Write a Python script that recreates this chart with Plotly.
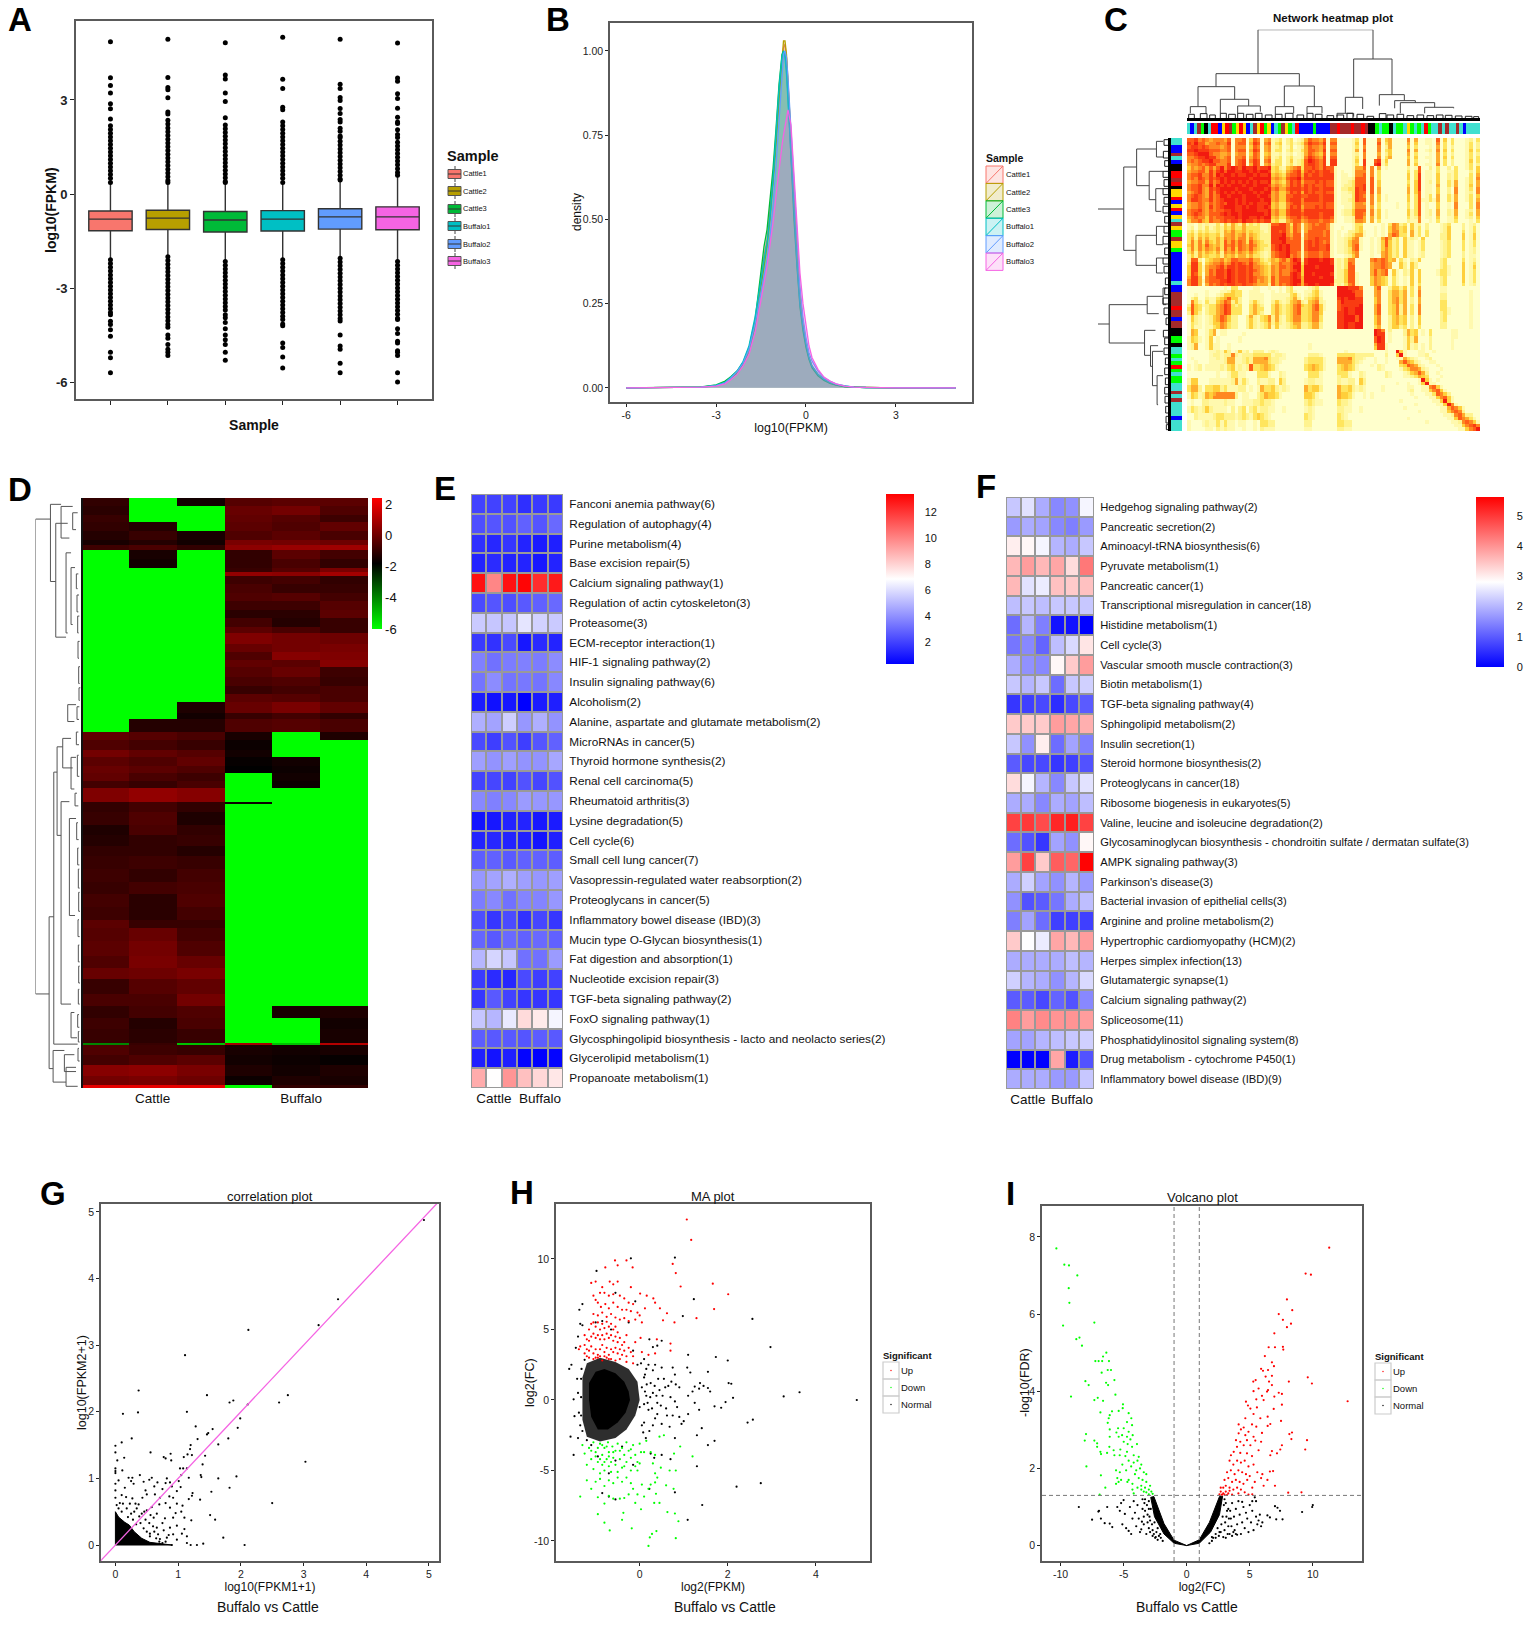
# Figura multipanel: expresion Buffalo vs Cattle (paneles A-I)
import plotly.graph_objects as go

W, H = 1535, 1627
SANS = "Liberation Sans"

# ---------- A: boxplot ----------
samples = ["Cattle1", "Cattle2", "Cattle3", "Buffalo1", "Buffalo2", "Buffalo3"]
sample_colors = ["#F8766D", "#B79F00", "#00BA38", "#00BFC4", "#619CFF", "#F564E3"]
box_q1 = [-1.17, -1.13, -1.21, -1.18, -1.12, -1.14]
box_med = [-0.80, -0.77, -0.83, -0.80, -0.73, -0.73]
box_q3 = [-0.54, -0.52, -0.56, -0.53, -0.47, -0.41]
box_low = [-2.1, -2.0, -2.15, -2.1, -2.05, -2.15]
box_up = [0.37, 0.37, 0.37, 0.37, 0.45, 0.6]
out_cattle1 = [4.86, 3.71, 3.46, 3.22, 2.88, 2.72, 2.39, 2.18, 2.06, 1.94, 1.82, 1.7, 1.58, 1.46, 1.34, 1.22, 1.1, .98, .86, .74, .62, .5, .37,
               -2.1, -2.22, -2.34, -2.46, -2.58, -2.7, -2.82, -2.94, -3.06, -3.18, -3.3, -3.42, -3.54, -3.66, -3.78, -3.85, -4.06, -4.16, -4.33, -4.54, -5.05, -5.22, -5.7]
out_cattle2 = [4.94, 3.72, 3.4, 3.33, 3.07, 2.62, 2.55, 2.35, 2.23, 2.11, 1.99, 1.87, 1.75, 1.63, 1.51, 1.39, 1.27, 1.15, 1.03, .91, .79, .67, .55, .43, .37,
               -2.0, -2.12, -2.24, -2.36, -2.48, -2.6, -2.72, -2.84, -2.96, -3.08, -3.2, -3.32, -3.44, -3.56, -3.68, -3.8, -3.92, -4.04, -4.16, -4.25, -4.5, -4.6, -4.8, -4.95, -5.05, -5.15]
out_cattle3 = [4.83, 3.8, 3.67, 3.22, 2.95, 2.43, 2.2, 2.08, 1.96, 1.84, 1.72, 1.6, 1.48, 1.36, 1.24, 1.12, 1.0, .88, .76, .64, .52, .4, .37,
               -2.15, -2.27, -2.39, -2.51, -2.63, -2.75, -2.87, -2.99, -3.11, -3.23, -3.35, -3.47, -3.59, -3.7, -3.85, -3.95, -4.1, -4.3, -4.5, -4.65, -4.8, -5.05, -5.3]
out_buffalo1 = [5.0, 3.66, 3.37, 2.77, 2.69, 2.3, 2.18, 2.06, 1.94, 1.82, 1.7, 1.58, 1.46, 1.34, 1.22, 1.1, .98, .86, .74, .62, .5, .37,
                -2.1, -2.22, -2.34, -2.46, -2.58, -2.7, -2.82, -2.94, -3.06, -3.18, -3.3, -3.42, -3.54, -3.66, -3.78, -3.9, -4.0, -4.15, -4.2, -4.75, -4.9, -5.2, -5.55]
out_buffalo2 = [4.94, 3.5, 3.37, 3.08, 2.98, 2.73, 2.57, 2.38, 2.3, 2.1, 2.0, 1.85, 1.8, 1.68, 1.56, 1.44, 1.32, 1.2, 1.08, .96, .84, .72, .6, .48, .45,
                -2.05, -2.17, -2.29, -2.41, -2.53, -2.65, -2.77, -2.89, -3.01, -3.13, -3.25, -3.37, -3.49, -3.61, -3.73, -3.85, -3.97, -4.05, -4.5, -4.85, -4.95, -5.4, -5.7]
out_buffalo3 = [4.82, 3.7, 3.6, 3.2, 3.05, 2.74, 2.45, 2.3, 2.25, 2.05, 1.9, 1.8, 1.65, 1.53, 1.41, 1.29, 1.17, 1.05, .93, .81, .69, .6,
                -2.15, -2.27, -2.39, -2.51, -2.63, -2.75, -2.87, -3.0, -3.12, -3.24, -3.36, -3.48, -3.6, -3.72, -3.84, -3.96, -4.0, -4.3, -4.45, -4.7, -4.75, -5.0, -5.05, -5.15, -5.7, -6.0]
outliers = [out_cattle1, out_cattle2, out_cattle3, out_buffalo1, out_buffalo2, out_buffalo3]

# ---------- B: densidad ----------
dens_x = [-6, -4, -3.5, -3, -2.7, -2.5, -2.3, -2.1, -1.9, -1.7, -1.5, -1.4, -1.3, -1.2, -1.1, -1, -.9, -.8, -.75, -.7, -.65, -.6, -.5, -.4, -.3, -.2, -.1, 0, .1, .2, .4, .6, .8, 1, 1.3, 1.6, 2, 3, 5]
dens_c1 = [0, .001, .002, .007, .015, .03, .045, .07, .11, .19, .33, .39, .44, .52, .62, .74, .87, .98, 1.01, 1.02, .98, .9, .72, .55, .4, .27, .19, .13, .09, .065, .04, .025, .015, .009, .004, .002, .001, 0, 0]
dens_c2 = [0, .001, .002, .006, .014, .028, .043, .068, .105, .18, .3, .36, .42, .5, .6, .72, .86, .99, 1.03, 1.03, .99, .91, .73, .56, .41, .28, .19, .13, .09, .065, .04, .026, .016, .009, .004, .002, .001, 0, 0]
dens_c3 = [0, .002, .003, .009, .02, .034, .05, .075, .12, .2, .36, .42, .47, .55, .65, .77, .9, .99, 1.0, .99, .95, .87, .68, .5, .36, .24, .17, .12, .085, .06, .036, .022, .013, .008, .003, .002, .001, 0, 0]
dens_b1 = [0, .001, .002, .008, .016, .032, .05, .078, .125, .21, .33, .38, .43, .51, .62, .76, .89, .985, 1.0, .98, .93, .85, .68, .52, .37, .25, .18, .13, .09, .065, .04, .026, .016, .01, .005, .002, .001, 0, 0]
dens_b2 = [0, .001, .002, .006, .015, .03, .048, .073, .115, .19, .29, .33, .38, .45, .54, .66, .8, .95, .99, 1.0, .98, .92, .76, .6, .44, .3, .21, .15, .105, .08, .05, .03, .02, .012, .005, .002, .001, 0, 0]
dens_b3 = [0, .001, .002, .005, .012, .025, .04, .065, .1, .165, .27, .31, .36, .42, .49, .57, .65, .72, .75, .78, .81, .825, .78, .63, .47, .34, .25, .18, .125, .09, .055, .032, .02, .012, .005, .002, .001, 0, 0]
densities = [dens_c1, dens_c2, dens_c3, dens_b1, dens_b2, dens_b3]

# ---------- C: network heatmap (niveles 0-9, grupos separados por espacios) ----------
net_rows = [
    "77867656 665706670476056 123023012 576657066 0000130700 060450 00060500110704030001203",
    "87977566 766806770587067 134023123 687768077 0000140700 070350 00050400110603030001302",
    "78878766 656706660476056 123013012 576657066 0000130600 060250 00040300010503020001302",
    "88988877 766706770587056 133023113 577658077 0000150700 060340 00060500120604030001403",
    "77899976 655605660476045 112012012 576547066 0000120600 050240 00050300010503020001302",
    "66788988 656706670576056 123023112 687658077 0000130600 060350 00040400110504030001303",
    "67678897 766706780687067 133024123 798768088 0000140800 781400 00050300010503020001403",
    "56676788 666806780587056 233023123 788768088 0000130800 891300 00050400110603020001302",
    "46567575 796898798897889 342145673 778768771 0000155706 050100 00020170020300203001304",
    "56677586 897998899898998 343256784 787878871 0100166606 030000 00030370110300113000204",
    "67786686 989989889989889 454367785 878878881 0110166706 030000 00040380110400213000305",
    "67687687 898999999899999 565478896 888888881 0111277707 030000 00040380110400213001306",
    "56677586 798989898989889 454368785 777878771 0112377707 040000 00030480120400315001305",
    "67786696 989899989989998 565468786 878778771 0122377807 040000 00040480110500315001405",
    "67786587 899998999899989 675578887 878878881 0223387807 050000 00050480110400206001306",
    "56786586 898989899989899 564468785 878778771 0112387707 050000 00050470110400206001206",
    "67876586 799899989998998 564477887 788878881 0111387606 040100 00040370130500315001304",
    "68876686 789998989999899 564478886 888878881 0112387706 040100 00040371131500315001305",
    "56676576 787998989898889 453367886 777778771 0111366506 030000 10030370100400106000306",
    "56676586 789998898998898 453368785 777878771 0011366605 030000 10030370100400106000306",
    "67786576 778898899998889 564478886 888888881 0122477706 140100 00041370120500215001205",
    "67876577 789899899999989 564478887 888878881 0122477606 140100 00041370120500215001305",
    "56766476 778889899889899 453367786 788878871 0011277505 140100 00031260110400114001204",
    "46675476 678788798878788 342256775 677767761 0011266505 030000 00021160010300113000103",
    "11021211 314253252323112 778863761 567677610 0000133000 001036 52304120200012300020120",
    "12021312 324353353333112 888864761 567777610 0100134000 101046 53404130200012400020130",
    "23132322 325464453433212 887864760 577776710 1002234100 101046 63405130300012400030130",
    "34243433 425564563543222 888965770 677776710 1012355100 101057 63305130300022400040140",
    "35253533 536564663643222 889976771 677877710 1123561001 015752 30412104000022400040140",
    "36363643 537575763754322 888977771 787876710 1124661001 014742 30411013000012300030130",
    "46364754 537675765764332 789897771 787877810 1124671001 014742 30411013000012300030130",
    "36364654 637574765754322 789897771 788877810 1123671001 014642 30411013000012300030120",
    "35253543 526564654643212 678897761 677767710 1123560001 015642 30411012000012300020120",
    "24253433 425453553533212 678896761 677767710 0012460001 005642 30411012000012300020110",
    "27720345 564577666755323 546757982 899989981 2136600006 767645 03102140000023000030120",
    "38840456 675687876865432 557667893 899999981 2137600005 667650 04204200000023000040130",
    "48841566 786887887866543 657767994 999899991 2137700005 667650 04204200000023100040140",
    "48841576 887987887876543 657667894 999999991 2247700005 756704 10214040000133100040130",
    "48740576 887987887866543 657668984 998999981 2247710005 756704 10214040000133100040130",
    "58850677 887987887876653 757778985 999989991 2247710004 654303 10104040000023000040130",
    "68851677 788987887875653 757778995 999999992 2247710004 654303 10104040000023000040130",
    "68850576 787887787765552 757678985 899899981 2136710004 654303 10104030000023000030120",
    "00000000 001033000011001 001023000 012300000 9998886000 570024 42403050000011000000000",
    "00000100 011243300111000 101023100 113410000 9999877000 560035 53503060000011000000100",
    "00100100 124443300111100 111113410 123410000 9999977000 560035 53503060000022000000100",
    "02300211 345744200111100 111123520 234520000 8989988000 460035 63502050000022000000100",
    "06310311 457624200242100 242124562 145621000 7988888000 460035 63502050000033000000100",
    "27431233 568732300353200 353234674 346741000 7888889000 570034 62503060000033000000100",
    "37430233 568733300353300 353234673 346741000 7898899000 570034 62503060000033100000100",
    "27420233 568733300353200 353234673 346640000 8898899000 570034 62503060000023100000100",
    "04210124 576422002521346 252134663 346630000 8899979000 460024 53402040000023000000100",
    "04210124 576422002421346 252134663 346630000 8899979000 460024 53402040000023000000100",
    "03210124 465322002421235 242123552 235520000 8898899000 460024 53402040000022000000100",
    "03110113 465322002421235 141123452 235520000 8898899000 350024 42302030000022000000100",
    "05400135 011000000000000 000000000 000000000 0000000000 986020 00253401030000011000000",
    "05400135 011000010000000 000000000 000000000 0000000000 988010 00253401030000011000000",
    "14310140 100000100000000 000000000 000000000 0000000000 798010 00142500020000011000000",
    "14310140 100000100000000 000000000 000000000 0000000000 798010 00142500020000010000000",
    "12500141 100100000000000 000000000 010000000 0000000000 588100 00141201020000010000000",
    "12500141 100100000000000 000000000 010000000 0000000000 488100 00141201020000010000000",
    "00000011 214201412022201 210000000 000000000 0010000000 000100 94100011001000000000000",
    "00000012 212262122233333 122100000 022210000 3333322222 000200 49100011200000000000000",
    "01000011 212551123255563 221100000 233331000 5556322100 100100 11532100120000000000000",
    "00100011 112551123255553 221000000 233331000 5555321000 100100 05754210011000000000000",
    "10120111 121341212733454 310000000 345431000 3454310001 021000 03476521000100000000000",
    "10120111 121341212733454 310000000 345431000 3454310000 021000 01346652100010000000000",
    "00000000 100133110003331 002100000 033310000 3331002100 000210 00124575200100000000000",
    "00000000 100133110003331 002100000 033310000 2331002100 000210 00112354300010000000000",
    "14400011 111125131002112 204200000 122110000 2112204200 000000 00000019410100000000000",
    "14400011 111125131002112 204200000 122110000 2112204200 000000 10010014911000000000000",
    "35520334 423111220101533 421210000 534420000 5334212100 001000 00011001167410000000000",
    "35520334 423111220101533 421210000 534420000 5334212100 001000 00012001146741000000000",
    "14312545 666662011002354 431000000 443100000 5443100101 000000 00001000113764200000000",
    "14312546 666662011002354 431000000 443100000 5443100101 000000 00000100011467410000000",
    "01002211 112110011122322 100000000 232110000 3221000000 000000 01000000001149410000000",
    "01002211 112110011122322 100000000 232110000 3221000000 000000 00000100000114961000000",
    "13212421 111020230231221 100100000 121000000 2211001000 000000 00100000000011576410000",
    "13212421 111020230231221 100100000 121000000 2211001000 000000 00000010000011467620000",
    "00211112 332221232134321 000000000 321000000 3210000000 000000 00000000000001126752200",
    "00211112 332221232134321 000000000 321000000 3210000000 000000 00010000000000114765310",
    "10001211 313110110010332 200000000 220000000 3322000000 000000 00000000100000011267641",
    "10001211 313110110010332 200000000 220000000 3322000000 000000 00000000000000001146786",
    "10000110 212110010010211 100000000 110000000 2211000000 000000 00000000000000000114679",
]
net_z = [[int(c) for c in row if c != " "] for row in net_rows]
module_top = "TBTNGKTRRBYRNGYRYBTNYRGYBTGNYGTRBBBBGBBBBNNRNNNRNNRNKKGTGGKTGGTYGTGTRGTTNTNTTNTBTTTT"
module_left = "TTBBNTBKKRRNRKYYRBYRBYTNYGGNYYGBBBBBBBBTBBNNNNRNNBNNKKGGKTTGTGRGTGGTTNTNTTTTBTTT"
module_ids = {"T": 0, "B": 1, "N": 2, "Y": 3, "G": 4, "R": 5, "K": 6}
module_colors = ["#40E0D0", "#0000FF", "#A52A2A", "#FFD700", "#00FF00", "#FF0000", "#000000"]

# enlaces del dendrograma (hoja a, hoja b, altura a, altura b, altura union)
net_links = [
    (213, 558, 134, 178, 266), (87, 337, 95, 97, 134), (33, 143, 35, 57, 95), (100, 185, 15, 37, 57),
    (152, 220, 15, 20, 37), (292, 382, 35, 35, 97), (500, 615, 63, 71, 178), (475, 527, 15, 28, 63),
    (577, 652, 38, 53, 71), (623, 685, 30, 47, 53), (640, 743, 15, 33, 47), (713, 800, 15, 30, 33),
    (10, 57, 15, 15, 35), (265, 320, 12, 15, 35), (360, 405, 15, 15, 35), (450, 500, 5, 5, 15),
]
net_small = [
    (5, 22, 12), (40, 60, 14), (68, 85, 10), (100, 118, 15), (125, 145, 12), (152, 170, 15), (178, 198, 12),
    (205, 225, 15), (235, 255, 10), (265, 285, 12), (295, 318, 15), (330, 350, 10), (360, 378, 15), (385, 405, 12),
    (420, 440, 8), (450, 470, 10), (480, 498, 15), (510, 530, 12), (540, 560, 6), (577, 597, 14), (600, 620, 10),
    (630, 650, 12), (660, 680, 8), (690, 710, 10), (720, 740, 8), (748, 768, 10), (775, 795, 9), (805, 825, 7),
    (835, 855, 6), (860, 875, 5),
]

# ---------- D: heatmap de genes ----------
d_edges = [0, 20, 40, 58, 79, 100, 112, 123, 145, 166, 175, 185, 205, 225, 245, 265, 285, 305, 320, 345, 365, 385, 400, 425, 445, 465, 483, 510, 523, 555,
           575, 597, 613, 635, 653, 672, 688, 722, 726, 745, 775, 800, 825, 850, 880, 910, 940, 970, 1000, 1020, 1050, 1085, 1115, 1140, 1175, 1205, 1233, 1260, 1293, 1297, 1320, 1345, 1370, 1393, 1399]
d_rows = [
    [-1, -6, -1.5, -.4, -.3, -.3], [-1.1, -6, -6, -.1, .1, -.5], [-.9, -6, -6, -.2, -.4, -.8], [-1, -1.2, -6, -.3, -.5, -.2],
    [-1.2, -.9, -1.4, -.5, -.3, -.6], [-1.4, -1.2, -1.5, .2, .1, 0], [-.8, -.6, -1, .5, .7, .8], [-6, -1.4, -6, -1, -.3, -.7],
    [-6, -1.5, -6, -1, -.6, -1], [-6, -6, -6, -.9, -.4, .2], [-6, -6, -6, .6, .5, .9], [-6, -6, -6, -.8, -.7, -1],
    [-6, -6, -6, -.6, -.9, -.9], [-6, -6, -6, -.5, -.4, -.7], [-6, -6, -6, -.8, -.8, -.4], [-6, -6, -6, -1.1, -1.1, -.3],
    [-6, -6, -6, -.7, -1.2, -.9], [-6, -6, -6, -.3, -.6, -.9], [-6, -6, -6, .3, .1, 0], [-6, -6, -6, -.1, .1, .2],
    [-6, -6, -6, -.5, .4, .3], [-6, -6, -6, -.2, -.3, .4], [-6, -6, -6, -.4, -.1, -.8], [-6, -6, -6, -.6, -.5, -.9],
    [-6, -6, -6, -.9, -.7, -.6], [-6, -6, -6, -.3, -.4, -.6], [-6, -6, -1.3, -.1, .2, -.2], [-6, -6, -1.5, -.9, -.7, -1],
    [-6, -1.2, -1.2, -.5, -.4, -.6], [-.2, -.4, -.6, -1.4, -6, -1.3], [-.5, -.7, -.9, -1.6, -6, -6], [.1, -.2, -.4, -1.5, -6, -6],
    [-.3, -.5, -.2, -1.7, -1.5, -6], [-.1, -.3, -.5, -1.8, -1.6, -6], [-.2, -.6, -.8, -6, -1.5, -6], [-.7, -.9, -.6, -6, -1.6, -6],
    [.3, .6, .4, -6, -6, -6], [-1, -.7, -1, -1.6, -6, -6], [-1, -.7, -1, -6, -6, -6], [-.9, -.5, -1.3, -6, -6, -6],
    [-1.3, -.6, -1, -6, -6, -6], [-1.2, -1, -.9, -6, -6, -6], [-1, -1, -1.2, -6, -6, -6], [-.9, -.8, -.9, -6, -6, -6],
    [-.8, -1, -.7, -6, -6, -6], [-.9, -.7, -.6, -6, -6, -6], [-.7, -1.1, -.5, -6, -6, -6], [-.8, -1.1, -.7, -6, -6, -6],
    [-.3, -.9, -.9, -6, -6, -6], [-.4, -.1, -.7, -6, -6, -6], [-.3, .1, -.5, -6, -6, -6], [-.5, .2, -.1, -6, -6, -6],
    [-.1, 0, .2, -6, -6, -6], [-.9, -.4, -.2, -6, -6, -6], [-.6, -.6, .1, -6, -6, -6], [-1, -.7, -.5, -6, -1.4, -1.3],
    [-.8, -1.2, -.6, -6, -6, -1.5], [-.9, -1.1, -.9, -6, -6, -1.4], [-4, -.9, -5, .9, -5, 1.2], [-.5, -.8, -.9, -1.4, -1.5, -1.4],
    [-.7, -.5, -.3, -1.5, -1.6, -1.7], [.4, .5, .2, -1.3, -1.5, -1.3], [.1, .2, 0, -1.6, -1.3, -1.4], [2, 2, 2, -6, -1, -1],
]
d_columns = [0, 1, 2, 3, 4, 5]
d_links = [
    (50, 1176, 92, 96, 137), (15, 198, 60, 76, 92), (60, 330, 40, 45, 76), (20, 95, 25, 35, 60), (35, 75, 10, 15, 25),
    (130, 320, 30, 40, 45), (165, 300, 18, 25, 30), (490, 530, 15, 20, 40), (993, 1353, 82, 84, 96), (650, 1295, 72, 10, 82),
    (590, 800, 55, 60, 72), (570, 640, 30, 25, 55), (615, 690, 15, 20, 30), (720, 1200, 35, 30, 60), (760, 990, 15, 18, 35),
    (1220, 1280, 20, 12, 30), (1310, 1385, 50, 45, 84), (1320, 1360, 20, 15, 50), (1350, 1395, 15, 10, 45),
    (180, 215, 8, 10, 14), (230, 270, 6, 8, 12), (280, 320, 5, 7, 10), (340, 380, 4, 6, 9), (400, 440, 3, 4, 7), (450, 480, 2, 4, 6),
    (495, 525, 5, 6, 12), (555, 585, 8, 6, 14), (610, 660, 7, 5, 11), (700, 730, 12, 8, 18), (770, 810, 9, 7, 13), (830, 870, 7, 5, 10),
    (880, 925, 5, 4, 8), (935, 980, 4, 3, 7), (1000, 1040, 6, 4, 9), (1060, 1100, 5, 4, 8), (1110, 1150, 4, 3, 7), (1165, 1200, 5, 4, 8),
    (1225, 1255, 6, 5, 10), (1265, 1290, 5, 4, 8), (1305, 1335, 6, 4, 9),
]

# ---------- E y F: rutas KEGG ----------
e_terms = ["Fanconi anemia pathway(6)", "Regulation of autophagy(4)", "Purine metabolism(4)", "Base excision repair(5)", "Calcium signaling pathway(1)",
           "Regulation of actin cytoskeleton(3)", "Proteasome(3)", "ECM-receptor interaction(1)", "HIF-1 signaling pathway(2)", "Insulin signaling pathway(6)",
           "Alcoholism(2)", "Alanine, aspartate and glutamate metabolism(2)", "MicroRNAs in cancer(5)", "Thyroid hormone synthesis(2)", "Renal cell carcinoma(5)",
           "Rheumatoid arthritis(3)", "Lysine degradation(5)", "Cell cycle(6)", "Small cell lung cancer(7)", "Vasopressin-regulated water reabsorption(2)",
           "Proteoglycans in cancer(5)", "Inflammatory bowel disease (IBD)(3)", "Mucin type O-Glycan biosynthesis(1)", "Fat digestion and absorption(1)", "Nucleotide excision repair(3)",
           "TGF-beta signaling pathway(2)", "FoxO signaling pathway(1)", "Glycosphingolipid biosynthesis - lacto and neolacto series(2)", "Glycerolipid metabolism(1)", "Propanoate metabolism(1)"]
e_values = [
    [2, 2, 2, 1.5, 1.8, 1.8], [2.3, 2.5, 2.4, 2.8, 2.5, 3], [1.5, 1.3, 1.7, 1.2, 1, 1.1], [1.2, 1.4, 1.2, 1.2, .9, 1.2], [13, 10, 13, 13.3, 12.3, 12.8],
    [2.2, 2.5, 2.3, 2.6, 2.8, 3], [5.5, 5.4, 5.4, 6.2, 5.7, 5.5], [1.8, 1.6, 2.2, .9, 1.4, 1.2], [3.6, 3.2, 3.5, 3.6, 3.5, 3.9], [3.3, 3.9, 3.3, 3.4, 3.3, 3.8],
    [1, .7, .9, .3, 1, 1.1], [4.8, 4.5, 5.6, 4.2, 4.8, 4.1], [2.2, 1.9, 2.4, 1.9, 2.5, 2.8], [4.4, 4.1, 4.4, 4.1, 4.1, 4.6], [2, 2.1, 2, 2.4, 2.1, 2.4],
    [3.8, 3.6, 3.8, 4.3, 4.2, 4.2], [.8, .9, 1.2, 1.2, .9, 1], [1.2, 1.3, 1.2, 1.1, .8, 1.1], [2.7, 2.8, 2.6, 2.8, 2.8, 2.7], [4.2, 4.5, 4.8, 4.4, 4.2, 4.4],
    [3.5, 3.8, 3.2, 3.7, 3.7, 4.2], [2.3, 1.7, 2.2, 1.6, 2.1, 1.7], [2.9, 2.6, 3, 2.8, 3, 2.8], [5, 5.8, 5.4, 3.2, 3.2, 4.3], [1.8, 1.4, 1.3, 2.2, 1.9, 2],
    [1.7, 2.6, 2, 1.7, 1.7, 1.7], [5.4, 5, 6.3, 7.8, 7.4, 6.6], [2.7, 2.6, 2.6, 2.5, 2.7, 2.6], [1.1, .8, 1.1, .4, .3, .4], [9, 6.9, 9.6, 8.5, 7.9, 7.5],
]
f_terms = ["Hedgehog signaling pathway(2)", "Pancreatic secretion(2)", "Aminoacyl-tRNA biosynthesis(6)", "Pyruvate metabolism(1)", "Pancreatic cancer(1)",
           "Transcriptional misregulation in cancer(18)", "Histidine metabolism(1)", "Cell cycle(3)", "Vascular smooth muscle contraction(3)", "Biotin metabolism(1)",
           "TGF-beta signaling pathway(4)", "Sphingolipid metabolism(2)", "Insulin secretion(1)", "Steroid hormone biosynthesis(2)", "Proteoglycans in cancer(18)",
           "Ribosome biogenesis in eukaryotes(5)", "Valine, leucine and isoleucine degradation(2)", "Glycosaminoglycan biosynthesis - chondroitin sulfate / dermatan sulfate(3)", "AMPK signaling pathway(3)", "Parkinson's disease(3)",
           "Bacterial invasion of epithelial cells(3)", "Arginine and proline metabolism(2)", "Hypertrophic cardiomyopathy (HCM)(2)", "Herpes simplex infection(13)", "Glutamatergic synapse(1)",
           "Calcium signaling pathway(2)", "Spliceosome(11)", "Phosphatidylinositol signaling system(8)", "Drug metabolism - cytochrome P450(1)", "Inflammatory bowel disease (IBD)(9)"]
f_values = [
    [2.2, 2.5, 1.9, 1.5, 1.6, 2.7], [1.7, 1.9, 1.8, 1.5, 1.4, 1.7], [3, 2.9, 2.7, 2, 1.9, 2.2], [3.6, 3.9, 3.6, 3.8, 3.2, 4.3], [3.6, 2.5, 2.6, 3.5, 3.4, 3.5],
    [2.1, 2.2, 2.1, 2.2, 2.2, 2.2], [1.2, 2, 1.4, .2, .2, 0], [1.3, 1.5, 1.1, 2.1, 2.4, 3.1], [1.9, 1.6, 1.5, 2.9, 3.4, 3.9], [2.2, 2, 2.2, 1.2, 2.2, 2.3],
    [.6, .7, .8, .5, .8, 1], [3.4, 3.4, 3.4, 3.9, 3.8, 3.7], [2.2, 1.6, 3, 1.2, 1.8, 1.4], [1, .8, .8, .6, .7, .9], [3.2, 2.7, 2, 1.5, 2.2, 2.5],
    [1.9, 1.9, 1.5, 1.9, 1.8, 2.1], [4.9, 5, 4.8, 5.2, 5.3, 4.9], [1.2, .9, .6, 1.8, 1.6, 2.9], [3.9, 4.9, 3.4, 4.6, 4.5, 5.6], [1.9, 2.3, 1.8, 1.6, 2, 1.7],
    [1.6, .9, 1, 1.3, 1.9, 2.1], [1.4, 1.8, 1.2, .7, .7, .7], [3.4, 2.8, 2.6, 3.8, 3.6, 3.9], [1.9, 1.9, 1.9, 1.9, 2.1, 2], [2.3, 2, 1.9, 1.6, 2, 2.4],
    [1, 1, .8, 1.1, .9, 1.5], [4.2, 3.9, 4.1, 4, 4, 3.9], [1.8, 1.8, 2, 2.1, 2.2, 2.3], [0, 0, 0, 3.8, .3, .9], [1.9, 1.9, 1.9, 1.7, 1.7, 2.2],
]

# ---------- G: correlacion ----------
g_points = [
    (4.92, 4.88), (3.55, 3.69), (3.24, 3.30), (2.12, 3.23), (1.11, 2.85), (.37, 2.32), (1.46, 2.25), (2.75, 2.25), (1.88, 2.17), (1.82, 2.14), (2.61, 2.14), (2.11, 2.11),
    (.36, 1.99), (1.14, 2.0), (.12, 1.97), (1.99, 1.90), (1.95, 1.76), (1.28, 1.78), (1.55, 1.74), (1.46, 1.66), (1.48, 1.68), (.26, 1.60), (1.8, 1.6), (1.31, 1.59), (.1, 1.54),
    (0, 1.49), (1.64, 1.51), (1.2, 1.5), (1.19, 1.44), (0, 1.39), (.56, 1.39), (.88, 1.37), (1.15, 1.36), (1.22, 1.35), (1.09, 1.32), (1.43, 1.34), (.77, 1.32), (.8, 1.30),
    (.14, 1.31), (.89, 1.27), (.03, 1.27), (3.03, 1.25), (1.39, 1.21), (0, 1.15), (1.03, 1.15), (1.08, 1.15), (1.14, 1.15), (0, 1.11), (.11, 1.12), (0, 1.08), (1.05, 1.05),
    (.39, 1.05), (1.93, 1.03), (1.36, 1.05), (1.37, 1.02), (.21, 1.01), (.27, 1.01), (.58, 1.01), (.82, 1.0), (1.17, 1.01), (1.64, 1.0), (.54, .98), (.25, .96), (.05, .97),
    (.45, .95), (1.01, .96), (.8, .93), (0, .92), (.87, .94), (.29, .92), (.67, .94), (.62, .88), (.9, .88), (1.82, .86), (1.04, .87), (.15, .86), (.75, .84), (1.53, .8),
    (.48, .82), (0, .82), (1.23, .78), (.98, .81), (1.22, .74), (.63, .76), (.5, .76), (.86, .73), (.1, .75), (1.17, .69), (1.35, .68), (.43, .71), (.71, .71), (.92, .71),
    (.27, .7), (0, .71), (.17, .72), (.8, .63), (2.5, .63), (.98, .62), (.07, .63), (.37, .61), (.7, .61), (.58, .57), (1.07, .59), (.87, .56), (.5, .52), (1.05, .5), (1.51, .45),
    (.96, .48), (.66, .47), (1.1, .41), (1.59, .38), (1.21, .37), (.79, .4), (.92, .41), (.61, .41), (.75, .33), (.98, .29), (1.1, .24), (.87, .26), (.66, .26), (.77, .22),
    (1.72, .11), (1.06, .17), (.92, .16), (1.14, .13), (1.3, 0), (1.14, .03), (1.2, 0), (1.4, .02), (2.06, 0), (.98, .08), (.82, .11), (.55, .13), (.71, .09), (.9, 0),
    (.1, .5), (.2, .42), (.28, .38), (.33, .31), (.4, .33), (.45, .25), (.5, .2), (.55, .17), (.62, .2), (.65, .1), (.7, .05), (.75, .03), (.38, .43), (.3, .5), (.18, .55), (.25, .47),
    (.34, .55), (.42, .47), (.48, .38), (.54, .33), (.6, .28), (.68, .16), (.8, .05), (.85, .15), (.05, .55), (.02, .6), (.12, .62), (.23, .62), (.32, .62), (.46, .5), (.56, .45),
]
g_core = [(0, 0), (0, .5), (.05, .42), (.15, .34), (.22, .3), (.3, .2), (.42, .1), (.55, .04), (.9, 0)]
g_line_x = [-.3, 5.3]
g_line_y = [-.3, 5.3]

# ---------- H: MA plot ----------
h_up = [
    (1.07, 12.8), (1.17, 11.35), (.75, 9.65), (.82, 9.0), (.93, 8.05), (1.66, 8.25), (2.01, 7.5), (1.69, 6.45), (1.29, 5.8), (.79, 5.5), (.53, 5.65), (.62, 6.15), (.46, 6.5), (.35, 6.9),
    (.31, 7.2), (.16, 7.4), (.01, 7.55), (-.2, 8.0), (-.5, 8.4), (-.68, 8.4), (-.3, 9.9), (-.56, 9.9), (-.5, 9.55), (-.78, 9.4), (-.16, 9.4), (-1.1, 8.3), (-1.0, 8.4), (-.85, 8.0), (-.6, 8.2),
    (-.9, 7.6), (-1.05, 7.4), (-1.0, 7.1), (-.8, 7.6), (-.7, 7.4), (-.6, 7.5), (-.45, 7.4), (-.35, 7.2), (-.25, 6.9), (-.15, 6.8), (-.05, 6.2), (.12, 6.5), (-.95, 6.9), (-.88, 6.6), (-.78, 6.8),
    (-.7, 6.5), (-.6, 6.9), (-.5, 6.6), (-.4, 6.4), (-.3, 6.4), (-.2, 6.3), (0, 6.0), (-1.05, 6.1), (-.95, 6.0), (-.85, 6.2), (-.75, 5.9), (-.65, 6.1), (-.55, 5.85), (-.45, 5.7), (-.35, 5.8),
    (-.25, 5.6), (-.1, 5.7), (.05, 5.5), (-1.25, 4.6), (-1.2, 4.3), (-1.15, 5.0), (-1.1, 5.4), (-1.05, 5.5), (-1.0, 5.2), (-.95, 5.5), (-.9, 5.0), (-.85, 5.4), (-.8, 5.1), (-.75, 5.55), (-.7, 5.2),
    (-.65, 5.4), (-.6, 5.0), (-.55, 5.2), (-.5, 4.8), (-1.25, 3.9), (-1.2, 3.6), (-1.15, 4.2), (-1.1, 4.5), (-1.05, 4.7), (-1.0, 4.4), (-.95, 4.6), (-.9, 4.3), (-.85, 4.6), (-.8, 4.3), (-.75, 4.7),
    (-.7, 4.4), (-.65, 4.6), (-.6, 4.2), (-.55, 4.5), (-.5, 4.1), (-.45, 4.4), (-.4, 3.9), (-.35, 4.1), (-.3, 4.6), (-1.25, 3.3), (-1.2, 3.1), (-1.15, 3.5), (-1.1, 3.8), (-1.05, 3.3), (-1.0, 3.6),
    (-.95, 3.2), (-.9, 3.6), (-.85, 3.9), (-.8, 3.4), (-.75, 3.7), (-.7, 3.2), (-.65, 3.6), (-.6, 3.4), (-.55, 3.7), (-.5, 3.3), (-.45, 3.6), (-.4, 3.2), (-.35, 3.5), (-.3, 3.1), (-.25, 3.7), (-.2, 3.4),
    (-.15, 3.1), (-.1, 4.1), (.02, 4.4), (.05, 3.4), (.2, 3.2), (.35, 3.3), (.39, 4.3), (.7, 4.0), (.7, 3.5), (-1.15, 3.0), (-1.05, 2.9), (-.95, 3.0), (-.85, 2.8), (-.75, 3.0), (-.65, 2.9), (-.55, 2.8),
    (-.45, 2.9), (-.3, 2.7), (-.15, 2.6), (-1.0, 3.0), (-.9, 3.1), (-.8, 3.1), (-.7, 2.9), (-1.38, 3.6), (-1.35, 3.8),
]
h_down = [
    (-1.35, -6.85), (-.95, -8.1), (-.8, -8.7), (-.68, -9.25), (-.18, -9.1), (.28, -9.5), (.38, -9.3), (.23, -9.75), (.2, -10.35), (.82, -9.8), (.88, -8.6), (.8, -8.05), (.63, -7.95), (-.37, -8.0),
    (-.4, -8.5), (.03, -7.75), (-.1, -7.3), (.33, -7.3), (.45, -7.3), (-.8, -7.35), (-.95, -6.9), (-.6, -7.0), (-.7, -6.8), (-.45, -7.0), (-.35, -6.95), (-.25, -6.7), (-.05, -6.7), (.1, -6.85),
    (.37, -6.65), (.2, -6.3), (.25, -6.0), (.35, -5.85), (.6, -6.05), (.77, -6.3), (.05, -6.0), (-.15, -6.3), (-1.2, -5.7), (-1.1, -6.3), (-1.0, -5.8), (-.9, -5.6), (-.8, -6.1), (-.7, -5.7), (-.6, -5.9),
    (-.5, -5.5), (-.4, -5.8), (-.3, -5.5), (-.2, -5.9), (.35, -5.2), (.4, -5.5), (.68, -5.0), (.82, -5.0), (.48, -4.8), (.3, -4.5), (.92, -3.3), (1.2, -4.0), (.78, -3.8), (.25, -3.7), (.35, -3.9),
    (.45, -2.6), (.55, -2.5), (.15, -2.9), (.1, -3.7), (0, -4.5), (-.1, -4.7), (-.2, -5.0), (-.05, -5.0), (-1.3, -3.2), (-1.25, -3.8), (-1.2, -4.6), (-1.15, -3.4), (-1.1, -4.2), (-1.05, -3.0), (-1.05, -4.9),
    (-1.0, -3.7), (-.95, -4.4), (-.9, -3.1), (-.9, -5.2), (-.85, -3.9), (-.85, -4.6), (-.8, -3.4), (-.8, -5.0), (-.75, -4.2), (-.72, -3.0), (-.7, -3.7), (-.7, -4.7), (-.65, -5.1), (-.62, -3.3), (-.6, -4.1),
    (-.55, -4.6), (-.55, -3.6), (-.5, -3.1), (-.5, -5.1), (-.45, -4.2), (-.4, -3.4), (-.4, -4.8), (-.35, -3.9), (-.3, -4.4), (-.3, -3.0), (-.25, -3.6), (-.2, -4.1), (-.15, -3.2), (-.1, -3.9), (-.05, -4.4),
    (0, -3.1), (.03, -3.7), (-1.0, -4.0), (-.9, -4.2), (-.8, -4.4), (-.7, -4.0), (-.6, -3.7), (-.75, -3.3), (-.85, -3.2), (-.95, -3.4), (-1.1, -3.6), (-.65, -4.4), (-.45, -3.6), (-.35, -4.7), (-.2, -3.5),
]
h_normal = [
    (4.93, 0), (3.63, .55), (3.27, .25), (2.97, 3.75), (2.56, 5.75), (2.0, 2.8), (1.73, 3.05), (2.02, 1.2), (2.08, 1.15), (2.12, .15), (1.55, 2.0), (1.55, .85), (1.6, .6), (1.7, -.45), (1.85, -.55), (1.95, -.15),
    (2.45, -1.6), (2.57, -1.4), (1.41, -2.0), (1.3, -2.5), (1.7, -2.9), (1.55, -3.2), (1.3, -4.7), (2.2, -6.15), (2.75, -5.9), (1.42, -7.45), (1.09, -8.5), (.8, -6.55), (.22, -6.3), (-.7, -6.85), (-.55, -7.05),
    (1.23, 7.15), (.98, 5.95), (1.1, 3.2), (.8, 1.8), (1.08, 2.3), (1.15, 1.95), (1.37, 1.2), (1.45, 1.0), (1.25, .95), (1.35, .8), (1.2, .6), (1.1, .3), (1.25, -.2), (1.35, -.7), (1.1, -1), (.95, -1.7), (1, -1.5),
    (.8, -2.7), (.85, -.5), (.75, -1.1), (.7, .2), (.65, 1.0), (.55, 1.5), (.45, .7), (.4, -.2), (.35, -1.3), (.3, .5), (.25, 1.2), (.2, -.7), (.15, .3), (.1, -1.6), (.05, .9), (0, -.5), (.5, -1.7), (.6, -.6), (.9, .9),
    (.5, 2.3), (.35, 2.5), (.15, 2.2), (.75, 2.3), (.4, 3.85), (.3, 3.75), (.5, 4.2), (.22, 4.3), (-.2, 10.05), (-.98, 9.15), (.8, 10.1), (.12, 1.8), (-.05, 2.5), (-.15, 3.5), (-1.4, 4.5), (-1.45, 3.7), (-1.37, 6.4),
    (-1.3, 6.8), (-1.35, 5.4), (-1.3, 5.3), (-1.6, 2.2), (-1.55, 2.5), (-1.5, .05), (-1.48, -1.15), (-1.57, -2.6), (-1.5, -3.9), (-1.4, -2.7), (-.55, 7.6), (-.1, 7.0), (-.25, 5.5), (-.65, 5.0), (-.85, 5.6), (-1, 5.5),
    (.25, -3.8), (.5, -3.9), (.7, -4.2), (.33, -4.1), (-.85, -6.6), (-.7, -5.2), (-.55, -4.3), (-.4, -3.3), (-.15, -4.6), (-.95, -4.0), (-1.1, -3.2), (-1.4, .5), (-1.42, 1.5), (-1.35, -1.8), (-1.38, -.9),
    (.1, 1.6), (.16, 1.1), (.12, .6), (.18, -.2), (.1, -.3), (.24, .2), (.28, -.6), (.34, 1.0), (.38, .3), (.05, -1.8), (.08, -2.3), (.14, -2.7), (.22, -2.2), (.3, -1.8), (.4, -1.0), (.03, 2.6), (.1, 2.9), (.2, 2.5), (.3, 2.1),
    (-1.33, .2), (-1.33, -1.1), (-1.33, 1.5), (-1.32, 2.2), (-1.3, -2.2), (-1.25, 2.85), (-1.2, -2.85), (.42, 1.5), (.48, -.4), (.52, .3), (.58, .9), (.62, -1.1), (.68, -1.9), (.72, 1.3), (.8, -.1), (.82, 1.1), (.9, -1.2),
]
h_core_edge = [(-1.3, 0), (-1.3, 1.6), (-1.2, 2.6), (-.9, 3.0), (-.55, 2.7), (-.25, 2.2), (-.05, 1.3), (0, 0), (-.1, -1.1), (-.3, -2.1), (-.55, -2.7), (-.9, -2.95), (-1.2, -2.6), (-1.3, -1.4)]
h_core_inner = [(-1.15, 0), (-1.15, 1.2), (-1.0, 2.0), (-.8, 2.2), (-.55, 1.9), (-.35, 1.3), (-.25, .6), (-.22, 0), (-.32, -.9), (-.5, -1.6), (-.72, -2.1), (-.95, -2.1), (-1.1, -1.2)]

# ---------- I: volcano ----------
i_up = [
    (11.3, 7.72), (9.43, 7.05), (9.85, 7.02), (7.95, 6.38), (8.37, 6.1), (7.3, 6.0), (7.63, 5.85), (8.27, 5.75), (7.95, 5.66), (6.95, 5.5), (6.5, 5.14), (7.0, 5.14), (7.63, 5.15), (7.66, 5.08), (6.2, 4.91),
    (6.76, 4.75), (6.92, 4.65), (5.9, 4.58), (6.45, 4.55), (6.05, 4.53), (6.76, 4.4), (9.6, 4.36), (6.26, 4.38), (5.47, 4.29), (5.28, 4.25), (8.1, 4.25), (9.93, 4.2), (6.53, 4.25), (6.76, 4.16), (5.7, 4.07),
    (5.3, 4.0), (6.45, 4.03), (7.3, 3.96), (7.55, 3.93), (5.97, 3.88), (6.37, 3.99), (6.95, 3.86), (6.1, 3.77), (5.52, 3.79), (12.76, 3.74), (4.7, 3.73), (7.55, 3.65), (4.86, 3.63), (5.57, 3.58), (5.05, 3.55),
    (6.9, 3.54), (5.3, 3.41), (6.42, 3.34), (5.84, 3.3), (4.65, 3.3), (7.48, 3.23), (6.63, 3.15), (6.42, 3.1), (4.12, 3.14), (5.18, 3.14), (5.52, 3.08), (4.52, 3.06), (4.3, 3.01), (8.35, 2.93), (8.14, 2.89),
    (4.9, 2.95), (5.97, 2.92), (4.12, 2.91), (4.65, 2.86), (5.3, 2.82), (3.91, 2.73), (8.3, 2.76), (9.54, 2.73), (4.78, 2.73), (5.44, 2.72), (4.25, 2.69), (5.9, 2.69), (7.55, 2.6), (5.05, 2.6), (4.52, 2.6),
    (3.99, 2.56), (9.4, 2.49), (7.42, 2.49), (6.76, 2.45), (5.7, 2.47), (3.73, 2.43), (4.25, 2.4), (4.78, 2.39), (7.16, 2.39), (6.63, 2.34), (5.18, 2.32), (3.51, 2.34), (3.4, 2.2), (3.7, 2.1), (4.0, 2.2), (4.3, 2.15),
    (4.6, 2.2), (4.9, 2.05), (5.3, 2.1), (3.2, 1.9), (3.5, 1.95), (3.8, 1.85), (4.1, 1.95), (4.4, 1.9), (4.7, 1.85), (5.0, 1.8), (5.6, 1.9), (6.0, 1.85), (6.6, 1.92), (6.85, 1.93), (3.0, 1.7), (3.3, 1.75), (3.6, 1.65),
    (3.9, 1.7), (4.2, 1.65), (4.5, 1.6), (4.8, 1.7), (5.4, 1.65), (5.9, 1.75), (6.4, 1.7), (2.9, 1.5), (3.1, 1.55), (3.4, 1.5), (3.7, 1.45), (4.0, 1.5), (4.3, 1.45), (5.2, 1.5), (6.1, 1.55), (7.0, 1.55), (2.7, 1.4),
    (2.9, 1.35), (3.1, 1.4), (3.3, 1.35), (3.6, 1.32), (4.1, 1.35), (4.6, 1.38), (4.9, 1.32), (5.2, 1.33), (8.05, 1.37), (9.1, 1.38), (2.6, 1.33), (2.8, 1.32), (3.0, 1.32), (3.2, 1.31), (3.4, 1.42), (2.7, 1.5),
]
i_down = [
    (-10.33, 7.7), (-9.7, 7.28), (-9.33, 7.26), (-8.67, 7.0), (-9.35, 6.67), (-9.3, 6.29), (-9.8, 5.7), (-7.32, 5.78), (-8.75, 5.35), (-8.5, 5.39), (-8.3, 5.18), (-6.37, 5.0), (-6.63, 4.9), (-7.24, 4.78), (-6.98, 4.78),
    (-6.7, 4.78), (-6.16, 4.78), (-6.26, 4.55), (-6, 4.55), (-6.74, 4.48), (-5.73, 4.29), (-8.03, 4.26), (-6.39, 4.22), (-7.77, 4.16), (-6.23, 4.16), (-5.65, 3.91), (-9.17, 3.86), (-7.05, 3.83), (-7.32, 3.77), (-6.63, 3.75),
    (-5.05, 3.66), (-5.07, 3.56), (-5.39, 3.49), (-5.92, 3.48), (-6.84, 3.45), (-4.6, 3.43), (-6.1, 3.38), (-4.39, 3.3), (-6.18, 3.3), (-6.26, 3.18), (-4.73, 3.2), (-4.33, 3.12), (-5.44, 3.04), (-4.99, 3.04), (-6.1, 3.01),
    (-4.6, 2.95), (-5.57, 2.93), (-4.28, 2.86), (-7.98, 2.89), (-5.12, 2.86), (-5.39, 2.82), (-4.73, 2.82), (-4.46, 2.75), (-8.08, 2.72), (-7.32, 2.72), (-6.1, 2.82), (-4.99, 2.69), (-7.1, 2.65), (-4.68, 2.63), (-3.94, 2.63),
    (-4.33, 2.56), (-7.1, 2.56), (-6.13, 2.56), (-5.79, 2.47), (-5.26, 2.49), (-4.73, 2.43), (-6.84, 2.43), (-6.31, 2.4), (-6.79, 2.37), (-5.73, 2.34), (-5.31, 2.34), (-4.86, 2.32), (-4.2, 2.34), (-3.8, 2.3), (-4.6, 2.2),
    (-4.2, 2.15), (-3.9, 2.2), (-3.6, 2.1), (-5.1, 2.1), (-4.4, 2.05), (-4.0, 1.95), (-3.7, 2.0), (-3.4, 1.9), (-3.2, 1.85), (-4.8, 1.95), (-5.3, 1.9), (-5.6, 1.95), (-7.95, 2.05), (-6.8, 1.82), (-4.1, 1.85), (-3.8, 1.75),
    (-3.5, 1.7), (-3.2, 1.65), (-2.9, 1.55), (-5.5, 1.75), (-5.2, 1.7), (-4.7, 1.65), (-5.6, 1.6), (-5.4, 1.65), (-4.6, 1.7), (-4.3, 1.6), (-3.6, 1.55), (-3.3, 1.5), (-3.0, 1.45), (-2.8, 1.4), (-6.45, 1.5), (-3.9, 1.5),
    (-3.6, 1.45), (-3.4, 1.4), (-3.2, 1.38), (-3.0, 1.33), (-2.7, 1.34), (-4.2, 1.35), (-4.3, 1.45), (-6.9, 1.32),
]
i_normal = [
    (-8.55, 1.0), (-6.95, .9), (-7.0, .88), (-6.3, 1.0), (-6.8, .7), (-7.5, .67), (-6.5, .58), (-6.1, .57), (-5.9, .48), (-5.5, 1.0), (-5.3, .9), (-5.2, 1.1), (-5, 1.18), (-5.1, .55), (-4.9, .82), (-4.8, .45), (-4.6, .38),
    (-4.5, 1.0), (-4.3, .7), (-4.2, 1.15), (-4.1, .85), (-4, .5), (-3.9, 1.05), (-3.8, .7), (-3.7, .35), (-3.5, .95), (-3.4, .55), (-3.3, 1.2), (-3.2, .3), (-3.1, .8), (-3, .45), (-2.9, .65), (-2.85, .95), (-2.7, .25),
    (-2.5, .2), (-2.3, .15), (-2.1, .3), (-1.9, .12), (-3.6, .42), (-4.4, .3), (3, 1.2), (3.2, .9), (3.3, .5), (3.5, .7), (3.6, 1.1), (3.7, .35), (3.9, .95), (4, .55), (4.1, 1.15), (4.2, .8), (4.3, .3), (4.4, .6), (4.5, 1.0),
    (4.6, .45), (4.7, .85), (4.8, .7), (4.9, .35), (5, 1.05), (5.1, .6), (5.2, .9), (5.3, .4), (5.4, 1.25), (5.5, .75), (5.6, .55), (5.7, .65), (5.8, .8), (5.9, .5), (6, .6), (5.2, 1.15), (5.5, 1.15), (6.4, .78), (6.6, .73),
    (7.0, 1.02), (7.2, .98), (7.4, .9), (7.1, .68), (7.6, .68), (9.15, .87), (10, 1.05), (9.95, 1.0), (3.4, .3), (2.6, .35), (2.3, .2), (2, .12), (2.9, .22), (3.1, .2), (1.8, .06), (3.8, .4), (4.0, .28), (4.4, 1.13),
    (-3.3, .9), (-3.1, .6), (-2.9, .35), (-2.75, .55), (-2.6, .3), (-2.55, .6), (-2.4, .35), (-2.3, .45), (-2.2, .25), (-2.05, .2), (-3.4, .75), (-3.55, .62), (-3.0, .95), (-3.15, 1.05), (-3.35, 1.1), (-3.5, 1.2), (-3.0, 1.15), (-2.95, .75), (-2.45, .22), (-2.7, .4),
    (2.3, .3), (2.45, .45), (2.55, .25), (2.7, .35), (2.75, .55), (2.85, .75), (3.0, .4), (3.05, .6), (3.15, .75), (3.3, .95), (3.35, .7), (2.95, 1.05), (3.1, 1.1), (3.45, .9), (3.55, .5), (3.25, .3), (3.75, .75), (3.6, .25), (3.9, .3), (2.1, .2), (2.0, .22),
]
i_core_left = [(0, 0), (-1, .14), (-1.8, .57), (-2.6, 1.27), (-2.85, 1.25), (-2.55, .75), (-1.8, .3), (-1, .06)]
i_core_right = [(0, 0), (1, .15), (1.8, .6), (2.6, 1.27), (2.85, 1.28), (2.6, .8), (1.9, .35), (1, .06)]
i_cut_x = [-1, 1]
i_cut_y = 1.3


def dom_x(a, b):
    return [a / W, b / W]


def dom_y(top, bottom):
    return [1 - bottom / H, 1 - top / H]


def split(points):
    return [p[0] for p in points], [p[1] for p in points]


def link_lines(links):
    xs, ys = [], []
    for a, b, ha, hb, h in links:
        xs += [a, a, b, b, None]
        ys += [ha, h, h, hb, None]
    return xs, ys


def stepped(colors):
    n = len(colors)
    out = []
    for i, c in enumerate(colors):
        out += [[i / n, c], [(i + 1) / n, c]]
    return out


fig = go.Figure()
annotations = []
shapes = []
layout_axes = {}


def note(x, y, text, size, bold=False, family=SANS, color="#111", anchor="left", angle=0):
    if bold:
        text = "<b>" + text + "</b>"
    if anchor == "left":
        x -= 2.5
    annotations.append(dict(x=x / W, y=1 - y / H, xref="paper", yref="paper", text=text, showarrow=False, xanchor=anchor, yanchor="middle",
                            font=dict(size=size, family=family, color=color), textangle=angle))


def px_shape(kind, x0, y0, x1, y1, **kw):
    shapes.append(dict(type=kind, xref="paper", yref="paper", x0=x0 / W, x1=x1 / W, y0=1 - y0 / H, y1=1 - y1 / H, **kw))


def frame(**kw):
    base = dict(showline=True, mirror=True, linecolor="#5a5a5a", linewidth=1.6, showgrid=False, zeroline=False, ticks="outside", ticklen=3, tickcolor="#222",
                tickfont=dict(size=10.5, family=SANS, color="#222"))
    base.update(kw)
    return base


def plain(**kw):
    base = dict(showline=False, showgrid=False, zeroline=False, showticklabels=False, ticks="")
    base.update(kw)
    return base


# ---- A
layout_axes["xaxis"] = frame(domain=dom_x(76, 432), range=[-.6, 5.6], type="category", categoryarray=samples, showticklabels=False, ticklen=4,
                             title=dict(text="<b>Sample</b>", font=dict(size=14, family=SANS, color="#111"), standoff=16))
layout_axes["yaxis"] = frame(domain=dom_y(21, 399), range=[-6.54, 5.52], tickvals=[-6, -3, 0, 3], ticktext=["<b>-6</b>", "<b>-3</b>", "<b>0</b>", "<b>3</b>"],
                             ticklen=4, tickfont=dict(size=13, family=SANS, color="#222"))
note(51, 210, "log10(FPKM)", 14, bold=True, anchor="center", angle=-90)
for i, name in enumerate(samples):
    fig.add_trace(go.Box(x=[name], q1=[box_q1[i]], median=[box_med[i]], q3=[box_q3[i]], lowerfence=[box_low[i]], upperfence=[box_up[i]],
                         fillcolor=sample_colors[i], line=dict(color="#333", width=1.4), whiskerwidth=0, width=.755, boxpoints=False,
                         showlegend=False, xaxis="x", yaxis="y", name=name))
    fig.add_trace(go.Scatter(x=[name] * len(outliers[i]), y=outliers[i], mode="markers", marker=dict(size=5, color="#000"), showlegend=False, xaxis="x", yaxis="y"))

# ---- B
layout_axes["xaxis2"] = frame(domain=dom_x(610, 972), range=[-6.54, 5.54], tickvals=[-6, -3, 0, 3], ticktext=["-6", "-3", "0", "3"],
                              tickfont=dict(size=10.5, family=SANS, color="#222"),
                              title=dict(text="log10(FPKM)", font=dict(size=12.5, family=SANS, color="#111"), standoff=1))
layout_axes["yaxis2"] = frame(domain=dom_y(23, 402), range=[-.042, 1.083], tickvals=[0, .25, .5, .75, 1], ticktext=["0.00", "0.25", "0.50", "0.75", "1.00"])
note(577, 212, "density", 12, anchor="center", angle=-90)
for i, name in enumerate(samples):
    rgb = tuple(int(sample_colors[i][k:k + 2], 16) for k in (1, 3, 5))
    fig.add_trace(go.Scatter(x=dens_x, y=densities[i], mode="lines", fill="tozeroy", fillcolor="rgba(%d,%d,%d,0.22)" % rgb,
                             line=dict(color=sample_colors[i], width=1.3), showlegend=False, xaxis="x2", yaxis="y2", name=name))

# ---- C
heat_cs = [[0, "#FFFFCC"], [.22, "#FFF390"], [.4, "#FFDC40"], [.6, "#FFA028"], [.8, "#FF5514"], [1, "#F21A10"]]
fig.add_trace(go.Heatmap(z=net_z, colorscale=heat_cs, zmin=0, zmax=9, showscale=False, xaxis="x3", yaxis="y3"))
layout_axes["xaxis3"] = plain(domain=dom_x(1187, 1480), range=[-.5, 79.5])
layout_axes["yaxis3"] = plain(domain=dom_y(138, 431), range=[82.5, -.5])
fig.add_trace(go.Heatmap(z=[[module_ids[c] for c in module_top]], colorscale=stepped(module_colors), zmin=0, zmax=7, showscale=False, xaxis="x4", yaxis="y4"))
layout_axes["xaxis4"] = plain(domain=dom_x(1187, 1480))
layout_axes["yaxis4"] = plain(domain=dom_y(123, 134))
fig.add_trace(go.Heatmap(z=[[module_ids[c]] for c in module_left], colorscale=stepped(module_colors), zmin=0, zmax=7, showscale=False, xaxis="x5", yaxis="y5"))
layout_axes["xaxis5"] = plain(domain=dom_x(1171, 1182))
layout_axes["yaxis5"] = plain(domain=dom_y(138, 431), autorange="reversed")

small_links = [(a, b, 0, 0, h) for a, b, h in net_small]
link_x, link_y = link_lines(net_links)
small_x, small_y = link_lines(small_links)
fig.add_trace(go.Scatter(x=link_x, y=link_y, mode="lines", line=dict(color="#444", width=1), showlegend=False, xaxis="x6", yaxis="y6"))
fig.add_trace(go.Scatter(x=small_x, y=small_y, mode="lines", line=dict(color="#222", width=1), showlegend=False, xaxis="x6", yaxis="y6"))
layout_axes["xaxis6"] = plain(domain=dom_x(1187, 1480), range=[0, 879], showline=True, linecolor="#000", linewidth=3)
layout_axes["yaxis6"] = plain(domain=dom_y(29.7, 118.3), range=[0, 266])
fig.add_trace(go.Scatter(x=link_y, y=link_x, mode="lines", line=dict(color="#444", width=1), showlegend=False, xaxis="x7", yaxis="y7"))
fig.add_trace(go.Scatter(x=small_y, y=small_x, mode="lines", line=dict(color="#222", width=1), showlegend=False, xaxis="x7", yaxis="y7"))
layout_axes["xaxis7"] = plain(domain=dom_x(1098, 1168), range=[212, 0])
layout_axes["yaxis7"] = plain(domain=dom_y(138, 431), range=[879, 0], side="right", showline=True, linecolor="#000", linewidth=3)

# ---- D
d_scale = [[0, "#00FF00"], [.5, "#000000"], [1, "#FF0000"]]
fig.add_trace(go.Heatmap(z=d_rows, x=d_columns, y=d_edges, colorscale=d_scale, zmin=-6, zmax=2.4, xaxis="x8", yaxis="y8",
                         colorbar=dict(x=372 / W, xanchor="left", y=1 - 498 / H, yanchor="top", len=131, lenmode="pixels", thickness=10, thicknessmode="pixels",
                                       xpad=0, ypad=0, outlinewidth=0, tickvals=[-6, -4, -2, 0, 2], ticktext=["-6", "-4", "-2", "0", "2"], ticks="", tickfont=dict(size=13, family=SANS, color="#111"))))
layout_axes["xaxis8"] = plain(domain=dom_x(81, 368), range=[-.5, 5.5], showticklabels=True, tickvals=[1, 4.1], ticktext=["Cattle", "Buffalo"],
                              tickfont=dict(size=13.5, family=SANS, color="#111"), side="bottom")
layout_axes["yaxis8"] = plain(domain=dom_y(498, 1088), range=[1399, 0])
d_x, d_y = link_lines(d_links)
fig.add_trace(go.Scatter(x=d_y, y=d_x, mode="lines", line=dict(color="#555", width=1), showlegend=False, xaxis="x9", yaxis="y9"))
layout_axes["xaxis9"] = plain(domain=dom_x(35.5, 81), range=[137, 0])
layout_axes["yaxis9"] = plain(domain=dom_y(498, 1088), range=[1399, 0], side="right", showline=True, linecolor="#111", linewidth=2)

# ---- E y F
bwr = [[0, "#0000FF"], [.5, "#FFFFFF"], [1, "#FF0000"]]
CLEAR = "rgba(0,0,0,0)"
fig.add_trace(go.Heatmap(z=e_values, x=d_columns, y=e_terms, colorscale=bwr, zmin=.3, zmax=13.44, xgap=2, ygap=2, xaxis="x10", yaxis="y10",
                         colorbar=dict(x=886 / W, xanchor="left", y=1 - 494 / H, yanchor="top", len=170, lenmode="pixels", thickness=28, thicknessmode="pixels",
                                       xpad=0, ypad=0, outlinewidth=0, tickvals=[2, 4, 6, 8, 10, 12], ticks="outside", ticklen=9, tickcolor=CLEAR,
                                       tickfont=dict(size=11, family=SANS, color="#111"))))
layout_axes["xaxis10"] = plain(domain=dom_x(471, 563), range=[-.5, 5.5], showticklabels=True, tickvals=[1, 4], ticktext=["Cattle", "Buffalo"],
                               tickfont=dict(size=13.5, family=SANS, color="#111"))
layout_axes["yaxis10"] = plain(domain=dom_y(494, 1088), type="category", autorange="reversed", side="right", showticklabels=True, ticks="outside", ticklen=3, tickcolor=CLEAR,
                               tickfont=dict(size=11.8, family=SANS, color="#111"), tickmode="array", tickvals=e_terms, ticktext=e_terms)
fig.add_trace(go.Heatmap(z=f_values, x=d_columns, y=f_terms, colorscale=bwr, zmin=0, zmax=5.63, xgap=2, ygap=2, xaxis="x11", yaxis="y11",
                         colorbar=dict(x=1476 / W, xanchor="left", y=1 - 497 / H, yanchor="top", len=170, lenmode="pixels", thickness=28, thicknessmode="pixels",
                                       xpad=0, ypad=0, outlinewidth=0, tickvals=[0, 1, 2, 3, 4, 5], ticks="outside", ticklen=11, tickcolor=CLEAR,
                                       tickfont=dict(size=11, family=SANS, color="#111"))))
layout_axes["xaxis11"] = plain(domain=dom_x(1006, 1094), range=[-.5, 5.5], showticklabels=True, tickvals=[1, 4], ticktext=["Cattle", "Buffalo"],
                               tickfont=dict(size=13.5, family=SANS, color="#111"))
layout_axes["yaxis11"] = plain(domain=dom_y(497, 1089), type="category", autorange="reversed", side="right", showticklabels=True, ticks="outside", ticklen=3, tickcolor=CLEAR,
                               tickfont=dict(size=11.2, family=SANS, color="#111"), tickmode="array", tickvals=f_terms, ticktext=f_terms)
px_shape("rect", 471, 494, 563, 1088, fillcolor="#999999", line=dict(width=0), layer="below")
px_shape("rect", 1006, 497, 1094, 1089, fillcolor="#999999", line=dict(width=0), layer="below")


def poly(points):
    xs, ys = split(points)
    return xs + [xs[0]], ys + [ys[0]]


# ---- G
gx, gy = split(g_points)
core_x, core_y = poly(g_core)
fig.add_trace(go.Scatter(x=core_x, y=core_y, mode="lines", fill="toself", fillcolor="#000", line=dict(color="#000", width=1), showlegend=False, xaxis="x12", yaxis="y12"))
fig.add_trace(go.Scatter(x=gx, y=gy, mode="markers", marker=dict(size=2.2, color="#000"), showlegend=False, xaxis="x12", yaxis="y12"))
fig.add_trace(go.Scatter(x=g_line_x, y=g_line_y, mode="lines", line=dict(color="#F564E3", width=1.3), showlegend=False, xaxis="x12", yaxis="y12"))
layout_axes["xaxis12"] = frame(domain=dom_x(101, 439), range=[-.23, 5.16], tickvals=[0, 1, 2, 3, 4, 5],
                               title=dict(text="log10(FPKM1+1)", font=dict(size=12, family=SANS, color="#111"), standoff=0))
layout_axes["yaxis12"] = frame(domain=dom_y(1204, 1561), range=[-.24, 5.12], tickvals=[0, 1, 2, 3, 4, 5])
note(82, 1383, "log10(FPKM2+1)", 12.5, anchor="center", angle=-90)

# ---- H
for pts, fillc in ((h_core_edge, "rgba(0,0,0,0.82)"), (h_core_inner, "#000")):
    cx, cy = poly(pts)
    fig.add_trace(go.Scatter(x=cx, y=cy, mode="lines", fill="toself", fillcolor=fillc, line=dict(width=0), showlegend=False, xaxis="x13", yaxis="y13"))
for pts, col in ((h_normal, "#000"), (h_up, "#FF0000"), (h_down, "#00FF00")):
    hx, hy = split(pts)
    fig.add_trace(go.Scatter(x=hx, y=hy, mode="markers", marker=dict(size=2.2, color=col), showlegend=False, xaxis="x13", yaxis="y13"))
layout_axes["xaxis13"] = frame(domain=dom_x(556, 870), range=[-1.9, 5.23], tickvals=[0, 2, 4],
                               title=dict(text="log2(FPKM)", font=dict(size=12, family=SANS, color="#111"), standoff=0))
layout_axes["yaxis13"] = frame(domain=dom_y(1204, 1561), range=[-11.42, 13.9], tickvals=[-10, -5, 0, 5, 10], ticktext=["-10", "-5", "0", "5", "10"])
note(530, 1383, "log2(FC)", 12.5, anchor="center", angle=-90)

# ---- I
for pts in (i_core_left, i_core_right):
    cx, cy = poly(pts)
    fig.add_trace(go.Scatter(x=cx, y=cy, mode="lines", fill="toself", fillcolor="#000", line=dict(color="#000", width=1), showlegend=False, xaxis="x14", yaxis="y14"))
for pts, col in ((i_normal, "#000"), (i_up, "#FF0000"), (i_down, "#00FF00")):
    ix, iy = split(pts)
    fig.add_trace(go.Scatter(x=ix, y=iy, mode="markers", marker=dict(size=2.2, color=col), showlegend=False, xaxis="x14", yaxis="y14"))
for cut in i_cut_x:
    shapes.append(dict(type="line", xref="x14", yref="y14 domain", x0=cut, x1=cut, y0=0, y1=1, line=dict(color="#777", width=1, dash="4px,3px")))
shapes.append(dict(type="line", xref="x14 domain", yref="y14", x0=0, x1=1, y0=i_cut_y, y1=i_cut_y, line=dict(color="#777", width=1, dash="4px,3px")))
layout_axes["xaxis14"] = frame(domain=dom_x(1042, 1362), range=[-11.47, 13.9], tickvals=[-10, -5, 0, 5, 10], ticktext=["-10", "-5", "0", "5", "10"],
                               title=dict(text="log2(FC)", font=dict(size=12, family=SANS, color="#111"), standoff=0))
layout_axes["yaxis14"] = frame(domain=dom_y(1206, 1561), range=[-.4, 8.8], tickvals=[0, 2, 4, 6, 8])
note(1025, 1383, "-log10(FDR)", 12.5, anchor="center", angle=-90)

# ---- leyendas
note(447, 156, "Sample", 14.5, bold=True)
key_y_a = [174, 191, 209, 226, 244, 261]
for i, name in enumerate(samples):
    yc = key_y_a[i]
    px_shape("line", 455, yc - 8, 455, yc + 8, line=dict(color="#444", width=1))
    px_shape("rect", 448, yc - 4.5, 461, yc + 4.5, fillcolor=sample_colors[i], line=dict(color="#555", width=1))
    px_shape("line", 448, yc, 461, yc, line=dict(color="#333", width=1))
    note(463, yc, name, 7.5)

note(986, 158, "Sample", 10.5, bold=True)
for i, name in enumerate(samples):
    top = 166 + i * 17.4
    rgb = tuple(int(sample_colors[i][k:k + 2], 16) for k in (1, 3, 5))
    px_shape("rect", 986, top, 1003, top + 17.4, fillcolor="rgba(%d,%d,%d,0.2)" % rgb, line=dict(color=sample_colors[i], width=1))
    px_shape("line", 986, top + 17.4, 1003, top, line=dict(color=sample_colors[i], width=1))
    note(1006, top + 8.7, name, 7.7)

for lx, ttl_y, top in ((883, 1355, 1362), (1375, 1356, 1363)):
    note(lx, ttl_y, "Significant", 9.5, bold=True)
    for i, (lab, col) in enumerate((("Up", "#FF0000"), ("Down", "#00FF00"), ("Normal", "#000"))):
        t = top + i * 17
        px_shape("rect", lx, t, lx + 16, t + 17, line=dict(color="#ccc", width=1.2))
        px_shape("circle", lx + 7.3, t + 7.8, lx + 8.7, t + 9.2, fillcolor=col, line=dict(width=0))
        note(lx + 18, t + 8.5, lab, 9.5)

# ---- textos de panel
for lab, x, y in (("A", 8, 19), ("B", 546, 19), ("C", 1104, 19), ("D", 8, 489), ("E", 434, 488), ("F", 976, 486), ("G", 40, 1193), ("H", 510, 1192), ("I", 1006, 1193)):
    note(x, y, lab, 33, bold=True, color="#000")
note(1333, 18, "Network heatmap plot", 11.5, bold=True, anchor="center")
for cx, ttl, cy in ((270, "correlation plot", 1196), (713, "MA plot", 1196), (1202, "Volcano plot", 1197)):
    note(cx, cy, ttl, 13, anchor="center")
for cx in (268, 725, 1187):
    note(cx, 1607, "Buffalo vs Cattle", 14, anchor="center")

# cada eje se ancla a su pareja
for key in layout_axes:
    other = ("y" if key.startswith("x") else "x") + key[5:]
    layout_axes[key]["anchor"] = other

fig.update_layout(width=W, height=H, margin=dict(l=0, r=0, t=0, b=0), autosize=False, plot_bgcolor="white", paper_bgcolor="white",
                  showlegend=False, annotations=annotations, shapes=shapes, font=dict(family=SANS), **layout_axes)

fig.write_html("out.html", post_script="document.body.style.margin='0';", config={"displayModeBar": False})
